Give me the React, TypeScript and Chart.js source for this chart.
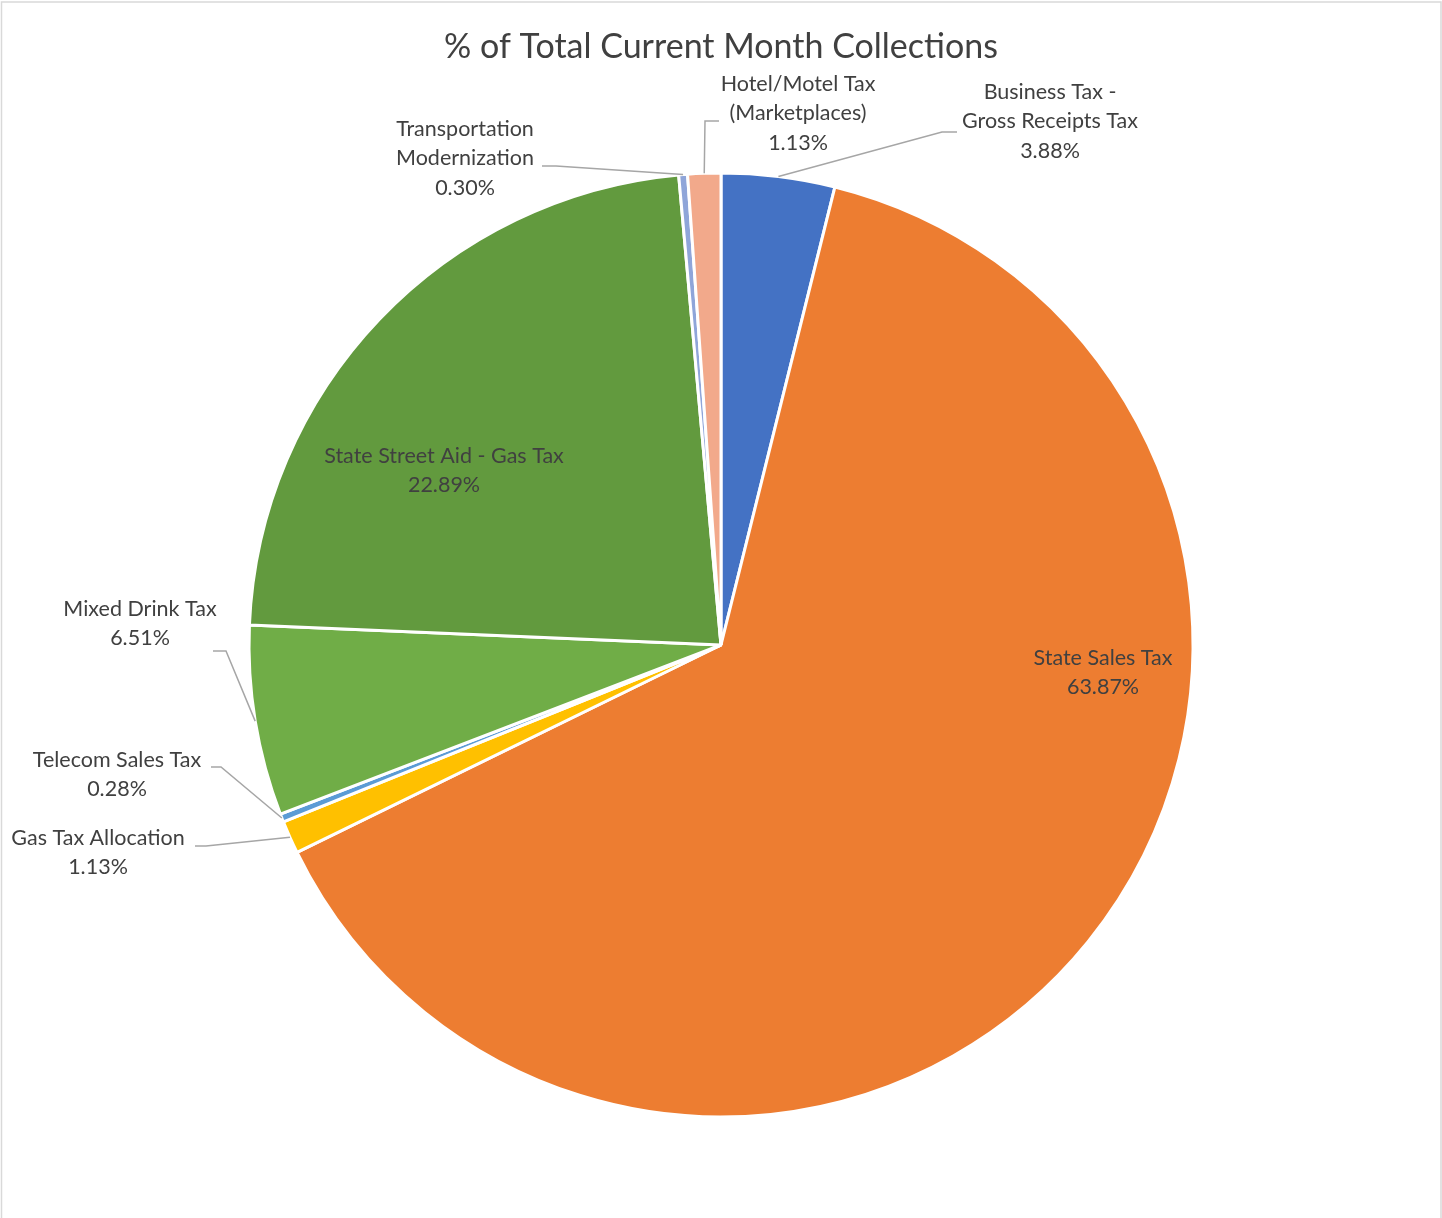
import React, { useEffect, useRef } from "react";
import { Chart, registerables } from "chart.js";

Chart.register(...registerables);

const categories = [
  "Business Tax - Gross Receipts Tax",
  "State Sales Tax",
  "Gas Tax Allocation",
  "Telecom Sales Tax",
  "Mixed Drink Tax",
  "State Street Aid - Gas Tax",
  "Transportation Modernization",
  "Hotel/Motel Tax (Marketplaces)",
];
const values = [3.88, 63.87, 1.13, 0.28, 6.51, 22.89, 0.3, 1.13];
const labelLines = [
  ["Business Tax -", "Gross Receipts Tax"],
  ["State Sales Tax"],
  ["Gas Tax Allocation"],
  ["Telecom Sales Tax"],
  ["Mixed Drink Tax"],
  ["State Street Aid - Gas Tax"],
  ["Transportation", "Modernization"],
  ["Hotel/Motel Tax", "(Marketplaces)"],
];
const colors = ["#4472C4", "#ED7D31", "#FFC000", "#5B9BD5", "#70AD47", "#629A3E", "#8FA5D9", "#F2A98B"];
const titleText = "% of Total Current Month Collections";

// label layout: text centre x, first line y, optional leader path (points after the arc anchor)
const labelLayout: { x: number; y: number; path: number[][] | null }[] = [
  { x: 1050, y: 92, path: [[942, 132], [957, 132]] },
  { x: 1103, y: 658, path: null },
  { x: 98, y: 838, path: [[206, 846], [195, 846]] },
  { x: 117, y: 760, path: [[221, 767], [211, 767]] },
  { x: 140, y: 609, path: [[226, 651], [213, 651]] },
  { x: 444, y: 456, path: null },
  { x: 465, y: 129, path: [[556, 166], [542, 166]] },
  { x: 798, y: 84, path: [[705, 121], [719, 121]] },
];

const FONT = "Lato, 'Open Sans', sans-serif";
const LINE_H = 29.5;

const overlay = {
  id: "overlay",
  beforeDraw(chart: any) {
    const ctx = chart.ctx;
    ctx.save();
    ctx.fillStyle = "#ffffff";
    ctx.fillRect(0, 0, chart.width, chart.height);
    ctx.strokeStyle = "#D9D9D9";
    ctx.lineWidth = 1.5;
    ctx.beginPath();
    ctx.moveTo(1.5, chart.height + 5);
    ctx.lineTo(1.5, 2);
    ctx.lineTo(1441, 2);
    ctx.lineTo(1441, chart.height + 5);
    ctx.stroke();
    ctx.restore();
  },
  afterDraw(chart: any) {
    const ctx = chart.ctx;
    const meta = chart.getDatasetMeta(0);
    ctx.save();
    ctx.fillStyle = "#404040";
    ctx.textAlign = "center";
    ctx.textBaseline = "middle";
    ctx.font = `34px ${FONT}`;
    ctx.fillText(titleText, 721, 47);

    meta.data.forEach((arc: any, i: number) => {
      const lay = labelLayout[i];
      const { x, y, startAngle, endAngle, outerRadius } = arc.getProps(
        ["x", "y", "startAngle", "endAngle", "outerRadius"],
        true
      );
      if (lay.path) {
        const mid = (startAngle + endAngle) / 2;
        const ax = x + Math.cos(mid) * outerRadius;
        const ay = y + Math.sin(mid) * outerRadius;
        ctx.strokeStyle = "#A6A6A6";
        ctx.lineWidth = 1.5;
        ctx.beginPath();
        ctx.moveTo(ax, ay);
        lay.path.forEach((p) => ctx.lineTo(p[0], p[1]));
        ctx.stroke();
      }
      ctx.font = `21.5px ${FONT}`;
      ctx.fillStyle = "#404040";
      const lines = [...labelLines[i], values[i].toFixed(2) + "%"];
      lines.forEach((t, k) => ctx.fillText(t, lay.x, lay.y + k * LINE_H));
    });
    ctx.restore();
  },
};

export default function App() {
  const ref = useRef<HTMLCanvasElement | null>(null);
  useEffect(() => {
    if (!ref.current) return;
    const chart = new Chart(ref.current, {
      type: "pie",
      data: {
        labels: categories,
        datasets: [
          {
            data: values,
            backgroundColor: colors,
            borderColor: "#ffffff",
            borderWidth: 3,
          },
        ],
      },
      options: {
        responsive: false,
        animation: false,
        radius: 472,
        layout: { padding: { top: 172, bottom: 100, left: 0, right: 0 } },
        plugins: {
          legend: { display: false },
          tooltip: { enabled: false },
          title: { display: false },
        },
      } as any,
      plugins: [overlay],
    });
    return () => chart.destroy();
  }, []);
  return (
    <div style={{ position: "absolute", left: 0, top: 0, width: 1442, height: 1218 }}>
      <canvas ref={ref} width={1442} height={1218} style={{ width: 1442, height: 1218 }} />
    </div>
  );
}
